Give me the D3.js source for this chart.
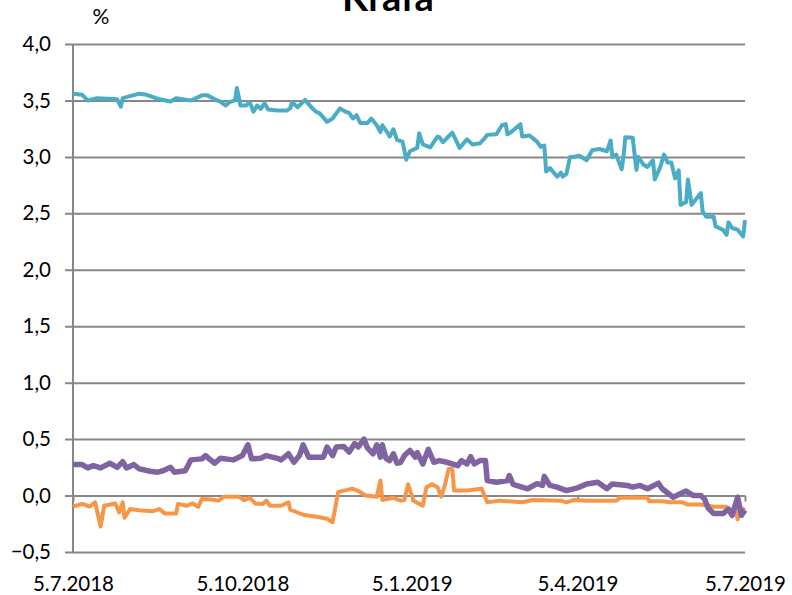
<!DOCTYPE html>
<html>
<head>
<meta charset="utf-8">
<script src="https://cdn.jsdelivr.net/npm/d3@7"></script>
<style>
  body { margin: 0; background: #fff; }
  svg { display: block; font-family: Lato, "Open Sans", sans-serif; }
</style>
</head>
<body>
<svg id="chart" width="792" height="595"></svg>
<script>
// date, value pairs (percent)
const blueSeries = [
  ["5.7.2018",3.56],["10.7.2018",3.55],["13.7.2018",3.50],["18.7.2018",3.52],["29.7.2018",3.51],
  ["31.7.2018",3.445],["1.8.2018",3.52],["10.8.2018",3.56],["14.8.2018",3.55],["21.8.2018",3.51],
  ["27.8.2018",3.49],["30.8.2018",3.52],["7.9.2018",3.50],["13.9.2018",3.545],["16.9.2018",3.545],
  ["20.9.2018",3.51],["23.9.2018",3.49],["26.9.2018",3.455],["28.9.2018",3.485],["1.10.2018",3.50],
  ["2.10.2018",3.61],["4.10.2018",3.455],["7.10.2018",3.455],["9.10.2018",3.485],["11.10.2018",3.40],
  ["13.10.2018",3.455],["15.10.2018",3.425],["17.10.2018",3.475],["19.10.2018",3.42],["24.10.2018",3.41],
  ["29.10.2018",3.41],["31.10.2018",3.43],["1.11.2018",3.485],["4.11.2018",3.44],["8.11.2018",3.505],
  ["12.11.2018",3.43],["14.11.2018",3.40],["16.11.2018",3.385],["20.11.2018",3.31],["23.11.2018",3.34],
  ["27.11.2018",3.43],["30.11.2018",3.40],["2.12.2018",3.39],["4.12.2018",3.34],["6.12.2018",3.37],
  ["8.12.2018",3.30],["12.12.2018",3.30],["14.12.2018",3.34],["17.12.2018",3.28],["19.12.2018",3.22],
  ["20.12.2018",3.28],["23.12.2018",3.21],["24.12.2018",3.18],["26.12.2018",3.245],["28.12.2018",3.15],
  ["31.12.2018",3.135],["2.1.2019",2.975],["4.1.2019",3.05],["8.1.2019",3.08],["9.1.2019",3.21],
  ["11.1.2019",3.11],["15.1.2019",3.085],["19.1.2019",3.18],["20.1.2019",3.175],["22.1.2019",3.13],
  ["24.1.2019",3.165],["27.1.2019",3.215],["31.1.2019",3.08],["4.2.2019",3.155],["7.2.2019",3.11],
  ["11.2.2019",3.12],["13.2.2019",3.155],["15.2.2019",3.195],["20.2.2019",3.20],["23.2.2019",3.28],
  ["25.2.2019",3.29],["26.2.2019",3.20],["28.2.2019",3.22],["5.3.2019",3.29],["6.3.2019",3.18],
  ["10.3.2019",3.19],["14.3.2019",3.135],["16.3.2019",3.09],["18.3.2019",3.10],["19.3.2019",2.87],
  ["21.3.2019",2.90],["25.3.2019",2.825],["27.3.2019",2.86],["28.3.2019",2.825],["30.3.2019",2.85],
  ["1.4.2019",3.0],["3.4.2019",3.0],["6.4.2019",3.01],["10.4.2019",2.97],["13.4.2019",3.06],
  ["17.4.2019",3.07],["21.4.2019",3.05],["23.4.2019",3.145],["24.4.2019",3.0],["26.4.2019",3.02],
  ["29.4.2019",2.89],["30.4.2019",3.0],["1.5.2019",3.175],["5.5.2019",3.17],["7.5.2019",2.885],
  ["8.5.2019",3.0],["11.5.2019",2.93],["13.5.2019",2.91],["16.5.2019",2.97],["17.5.2019",2.80],
  ["20.5.2019",2.91],["22.5.2019",3.02],["24.5.2019",2.95],["26.5.2019",2.95],["28.5.2019",2.81],
  ["30.5.2019",2.88],["31.5.2019",2.575],["3.6.2019",2.60],["4.6.2019",2.80],["6.6.2019",2.575],
  ["11.6.2019",2.68],["12.6.2019",2.515],["14.6.2019",2.47],["18.6.2019",2.47],["19.6.2019",2.385],
  ["23.6.2019",2.355],["25.6.2019",2.31],["26.6.2019",2.42],["28.6.2019",2.37],["1.7.2019",2.355],
  ["4.7.2019",2.295],["5.7.2019",2.44]
];

const purpleSeries = [
  ["5.7.2018",0.274],["10.7.2018",0.274],["13.7.2018",0.245],["16.7.2018",0.265],["20.7.2018",0.245],
  ["25.7.2018",0.286],["29.7.2018",0.25],["1.8.2018",0.30],["3.8.2018",0.245],["7.8.2018",0.274],
  ["10.8.2018",0.236],["16.8.2018",0.215],["20.8.2018",0.207],["23.8.2018",0.22],["27.8.2018",0.25],
  ["29.8.2018",0.207],["4.9.2018",0.22],["7.9.2018",0.316],["13.9.2018",0.325],["15.9.2018",0.354],
  ["17.9.2018",0.325],["20.9.2018",0.286],["23.9.2018",0.33],["30.9.2018",0.316],["5.10.2018",0.354],
  ["8.10.2018",0.45],["10.10.2018",0.325],["15.10.2018",0.33],["18.10.2018",0.354],["24.10.2018",0.33],
  ["26.10.2018",0.316],["30.10.2018",0.37],["2.11.2018",0.295],["5.11.2018",0.354],["7.11.2018",0.45],
  ["10.11.2018",0.34],["18.11.2018",0.34],["20.11.2018",0.43],["23.11.2018",0.354],["25.11.2018",0.43],
  ["29.11.2018",0.435],["2.12.2018",0.385],["5.12.2018",0.46],["7.12.2018",0.43],["10.12.2018",0.50],
  ["12.12.2018",0.42],["15.12.2018",0.37],["17.12.2018",0.45],["19.12.2018",0.34],["20.12.2018",0.45],
  ["22.12.2018",0.33],["24.12.2018",0.31],["26.12.2018",0.37],["28.12.2018",0.286],["30.12.2018",0.295],
  ["1.1.2019",0.354],["4.1.2019",0.40],["7.1.2019",0.34],["8.1.2019",0.38],["11.1.2019",0.28],
  ["14.1.2019",0.41],["17.1.2019",0.295],["20.1.2019",0.31],["24.1.2019",0.295],["30.1.2019",0.265],
  ["1.2.2019",0.31],["4.2.2019",0.28],["6.2.2019",0.345],["8.2.2019",0.28],["11.2.2019",0.31],
  ["14.2.2019",0.31],["15.2.2019",0.133],["20.2.2019",0.118],["26.2.2019",0.133],["27.2.2019",0.177],
  ["1.3.2019",0.10],["9.3.2019",0.06],["14.3.2019",0.105],["17.3.2019",0.09],["18.3.2019",0.17],
  ["21.3.2019",0.09],["25.3.2019",0.074],["30.3.2019",0.044],["5.4.2019",0.068],["10.4.2019",0.103],
  ["16.4.2019",0.118],["21.4.2019",0.06],["24.4.2019",0.103],["2.5.2019",0.09],["5.5.2019",0.074],
  ["9.5.2019",0.09],["13.5.2019",0.06],["19.5.2019",0.11],["21.5.2019",0.06],["27.5.2019",-0.015],
  ["30.5.2019",0.009],["3.6.2019",0.04],["7.6.2019",0.0],["11.6.2019",0.0],["13.6.2019",-0.03],
  ["15.6.2019",-0.11],["18.6.2019",-0.16],["23.6.2019",-0.16],["26.6.2019",-0.12],["28.6.2019",-0.175],
  ["1.7.2019",-0.015],["3.7.2019",-0.175],["5.7.2019",-0.13]
];

const orangeSeries = [
  ["5.7.2018",-0.097],["10.7.2018",-0.074],["14.7.2018",-0.097],["17.7.2018",-0.06],["20.7.2018",-0.274],
  ["22.7.2018",-0.09],["28.7.2018",-0.07],["30.7.2018",-0.15],["1.8.2018",-0.06],["2.8.2018",-0.197],
  ["5.8.2018",-0.12],["10.8.2018",-0.13],["17.8.2018",-0.14],["21.8.2018",-0.12],["24.8.2018",-0.16],
  ["30.8.2018",-0.16],["31.8.2018",-0.074],["5.9.2018",-0.09],["8.9.2018",-0.07],["11.9.2018",-0.10],
  ["13.9.2018",-0.03],["18.9.2018",-0.035],["22.9.2018",-0.045],["25.9.2018",-0.01],["3.10.2018",-0.01],
  ["6.10.2018",-0.04],["9.10.2018",-0.02],["12.10.2018",-0.07],["16.10.2018",-0.074],["18.10.2018",-0.045],
  ["20.10.2018",-0.09],["26.10.2018",-0.09],["30.10.2018",-0.06],["31.10.2018",-0.125],["7.11.2018",-0.17],
  ["15.11.2018",-0.19],["20.11.2018",-0.206],["23.11.2018",-0.236],["26.11.2018",0.03],["29.11.2018",0.044],
  ["4.12.2018",0.06],["7.12.2018",0.04],["11.12.2018",0.0],["17.12.2018",-0.01],["19.12.2018",0.133],
  ["20.12.2018",-0.04],["26.12.2018",-0.02],["30.12.2018",-0.045],["1.1.2019",-0.04],["3.1.2019",0.10],
  ["6.1.2019",-0.045],["11.1.2019",-0.09],["13.1.2019",0.074],["16.1.2019",0.10],["19.1.2019",0.074],
  ["21.1.2019",-0.01],["23.1.2019",0.09],["25.1.2019",0.236],["27.1.2019",0.236],["28.1.2019",0.044],
  ["4.2.2019",0.044],["12.2.2019",0.06],["15.2.2019",-0.06],["22.2.2019",-0.045],["6.3.2019",-0.06],
  ["12.3.2019",-0.04],["27.3.2019",-0.045],["30.3.2019",-0.06],["3.4.2019",-0.04],["10.4.2019",-0.045],
  ["26.4.2019",-0.045],["28.4.2019",-0.02],["13.5.2019",-0.02],["14.5.2019",-0.05],["21.5.2019",-0.05],
  ["25.5.2019",-0.06],["1.6.2019",-0.06],["4.6.2019",-0.08],["11.6.2019",-0.08],["18.6.2019",-0.10],
  ["25.6.2019",-0.10],["27.6.2019",-0.13],["30.6.2019",-0.13],["1.7.2019",-0.21],["3.7.2019",-0.11],
  ["5.7.2019",-0.13]
];

const yTicks = [-0.5, 0, 0.5, 1, 1.5, 2, 2.5, 3, 3.5, 4];
const xTickLabels = ["5.7.2018", "5.10.2018", "5.1.2019", "5.4.2019", "5.7.2019"];
const titleText = "Krafa";
const unitText = "%";

const parseDate = d3.timeParse("%d.%m.%Y");
const fmtNum = d => d3.format(".1f")(d).replace(".", ",");

const svg = d3.select("#chart");
const plotLeft = 73, plotRight = 745, plotTop = 44, plotBottom = 552;
const gridColor = "#878787";

const x = d3.scaleTime()
  .domain([parseDate(xTickLabels[0]), parseDate(xTickLabels[xTickLabels.length - 1])])
  .range([plotLeft, plotRight]);
const y = d3.scaleLinear().domain([-0.5, 4]).range([plotBottom, plotTop]);

// horizontal gridlines + y labels
const yAxis = svg.append("g")
  .attr("transform", "translate(" + (plotLeft - 8) + ",0)")
  .call(d3.axisLeft(y).tickValues(yTicks).tickSize(-(plotRight - plotLeft + 8)).tickPadding(14).tickFormat(fmtNum));
yAxis.select(".domain").remove();
yAxis.selectAll(".tick line").attr("stroke", gridColor).attr("stroke-width", 2);
yAxis.selectAll(".tick text")
  .attr("font-size", 20.5).attr("fill", "#000").attr("font-family", "Lato, sans-serif");

// vertical axis line
svg.append("line")
  .attr("x1", plotLeft).attr("x2", plotLeft).attr("y1", plotTop).attr("y2", plotBottom)
  .attr("stroke", gridColor).attr("stroke-width", 2);

// x axis ticks sit on the zero line
const xTicks = xTickLabels.map(parseDate);
const xAxis0 = svg.append("g")
  .attr("transform", "translate(0," + y(0) + ")")
  .call(d3.axisBottom(x).tickValues(xTicks).tickSize(6).tickFormat(""));
xAxis0.select(".domain").remove();
xAxis0.selectAll(".tick line").attr("stroke", gridColor).attr("stroke-width", 2);

// x labels at bottom
const xAxis = svg.append("g")
  .attr("transform", "translate(0," + plotBottom + ")")
  .call(d3.axisBottom(x).tickValues(xTicks).tickSize(0).tickPadding(24)
    .tickFormat((d, i) => xTickLabels[i]));
xAxis.select(".domain").remove();
xAxis.selectAll(".tick text")
  .attr("font-size", 20.5).attr("fill", "#000").attr("font-family", "Lato, sans-serif");

// lines
const line = d3.line()
  .x(d => x(parseDate(d[0])))
  .y(d => y(d[1]));

svg.append("path").datum(blueSeries)
  .attr("fill", "none").attr("stroke", "#4bacc6").attr("stroke-width", 4)
  .attr("stroke-linejoin", "round").attr("d", line);
svg.append("path").datum(orangeSeries)
  .attr("fill", "none").attr("stroke", "#f79646").attr("stroke-width", 4)
  .attr("stroke-linejoin", "round").attr("d", line);
svg.append("path").datum(purpleSeries)
  .attr("fill", "none").attr("stroke", "#8064a2").attr("stroke-width", 5.5)
  .attr("stroke-linejoin", "round").attr("d", line);

// title (cut off at the top like the reference)
svg.append("text")
  .attr("x", 388).attr("y", 11)
  .attr("text-anchor", "middle")
  .attr("font-size", 38).attr("font-weight", "bold")
  .text(titleText);

svg.append("text")
  .attr("x", 101).attr("y", 24)
  .attr("text-anchor", "middle")
  .attr("font-size", 21)
  .text(unitText);
</script>
</body>
</html>
